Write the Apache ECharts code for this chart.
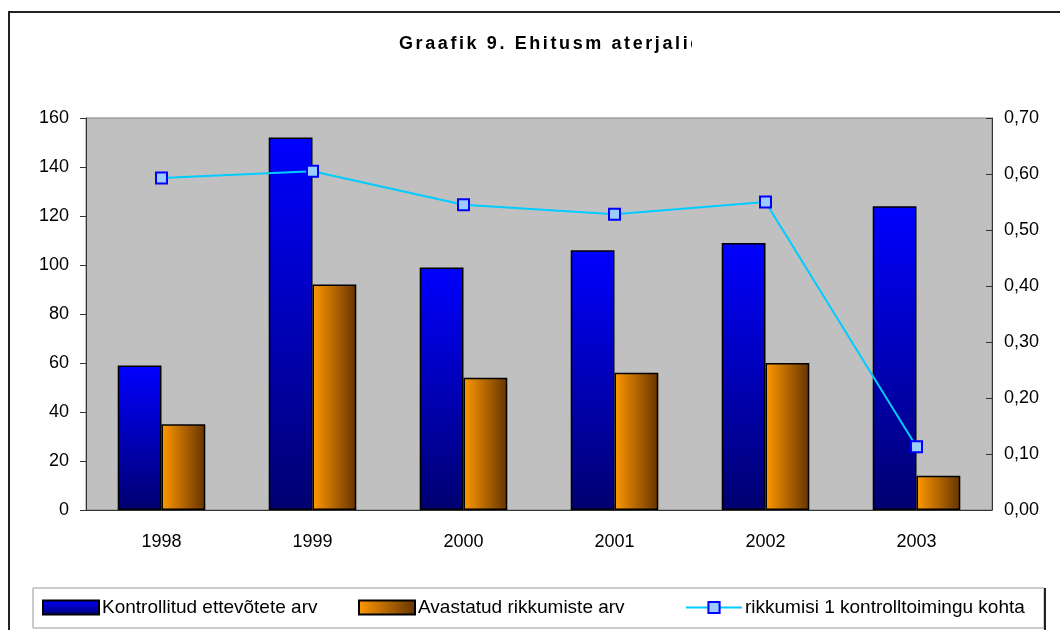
<!DOCTYPE html>
<html>
<head>
<meta charset="utf-8">
<title>Graafik 9</title>
<script src="https://cdn.jsdelivr.net/npm/echarts@6/dist/echarts.min.js"></script>
<style>
  html, body { margin: 0; padding: 0; background: #fff; }
  #wrap { position: relative; width: 1060px; height: 630px; }
  #chartArea { width: 1060px; height: 630px; }
  /* pealkiri on raami sees ära lõigatud nagu originaalis */
  #chartTitle {
    position: absolute; left: 399px; top: 33px; width: 293px; height: 24px;
    overflow: hidden; white-space: nowrap;
    font: bold 18px 'Liberation Sans', Arial, sans-serif; letter-spacing: 2.6px; color: #000;
  }
</style>
</head>
<body>
<div id="wrap">
  <div id="chartArea"></div>
  <div id="chartTitle">Graafik 9. Ehitusm aterjalid</div>
</div>
<script>
// andmed
const years = ['1998', '1999', '2000', '2001', '2002', '2003'];
const kontrollitud = [59, 152, 99, 106, 109, 124];
const rikkumised = [35, 92, 54, 56, 60, 14];
const rikkumisiKohta = [0.593, 0.605, 0.545, 0.528, 0.550, 0.113];
const seriesNames = ['Kontrollitud ettevõtete arv', 'Avastatud rikkumiste arv', 'rikkumisi 1 kontrolltoimingu kohta'];

const font = 'Liberation Sans, Arial, sans-serif';

let myChart = echarts.init(document.getElementById('chartArea'));

let blueFill = new echarts.graphic.LinearGradient(0, 0, 0, 1, [
  { offset: 0, color: '#0000ff' },
  { offset: 1, color: '#000070' }
]);
let orangeFill = new echarts.graphic.LinearGradient(0, 0, 1, 0, [
  { offset: 0, color: '#ff9900' },
  { offset: 1, color: '#663300' }
]);

function legendAt(left, name, icon) {
  let l = {
    left: left,
    top: 598,
    padding: 0,
    data: [name],
    itemWidth: 56,
    itemHeight: 14,
    selectedMode: false,
    textStyle: { fontFamily: font, fontSize: 19, color: '#000', padding: [0, 0, 0, -2] }
  };
  if (icon) l.icon = icon;
  return l;
}

let option = {
  animation: false,
  textStyle: { fontFamily: font },
  graphic: [
    {
      type: 'rect',
      shape: { x: 9, y: 12, width: 1100, height: 700 },
      style: { fill: 'none', stroke: '#222', lineWidth: 2 },
      silent: true
    },
    {
      type: 'rect',
      shape: { x: 33, y: 588, width: 1011, height: 40 },
      style: { fill: 'none', stroke: '#999', lineWidth: 1 },
      silent: true
    },
    {
      type: 'line',
      shape: { x1: 1045, y1: 588, x2: 1045, y2: 630 },
      style: { stroke: '#222', lineWidth: 2 },
      silent: true
    }
  ],
  legend: [
    legendAt(42, seriesNames[0], 'rect'),
    legendAt(358, seriesNames[1], 'rect'),
    legendAt(685, seriesNames[2])
  ],
  grid: {
    left: 86,
    right: 68,
    top: 118,
    bottom: 120,
    show: true,
    backgroundColor: '#c0c0c0',
    borderColor: '#808080',
    borderWidth: 1
  },
  xAxis: {
    type: 'category',
    data: years,
    axisLine: { lineStyle: { color: '#333', width: 1 } },
    axisTick: { length: 6, lineStyle: { color: '#333' } },
    axisLabel: { fontFamily: font, fontSize: 18, color: '#000', margin: 23 }
  },
  yAxis: [
    {
      type: 'value',
      min: 0,
      max: 160,
      interval: 20,
      splitLine: { show: false },
      axisLine: { show: true, lineStyle: { color: '#333' } },
      axisTick: { show: true, length: 6, lineStyle: { color: '#333' } },
      axisLabel: { fontFamily: font, fontSize: 18, color: '#000', margin: 17 }
    },
    {
      type: 'value',
      min: 0,
      max: 0.7,
      interval: 0.1,
      position: 'right',
      splitLine: { show: false },
      axisLine: { show: true, lineStyle: { color: '#333' } },
      axisTick: { show: true, length: 6, inside: true, lineStyle: { color: '#333' } },
      axisLabel: {
        fontFamily: font, fontSize: 18, color: '#000', margin: 12,
        formatter: function (v) { return v.toFixed(2).replace('.', ','); }
      }
    }
  ],
  series: [
    {
      name: seriesNames[0],
      type: 'bar',
      data: kontrollitud,
      barGap: '0%',
      barCategoryGap: '42%',
      itemStyle: { color: blueFill, borderColor: '#000', borderWidth: 1.5 }
    },
    {
      name: seriesNames[1],
      type: 'bar',
      data: rikkumised,
      itemStyle: { color: orangeFill, borderColor: '#000', borderWidth: 1.5 }
    },
    {
      name: seriesNames[2],
      type: 'line',
      yAxisIndex: 1,
      data: rikkumisiKohta,
      symbol: 'rect',
      symbolSize: 11,
      lineStyle: { color: '#00ccff', width: 2 },
      itemStyle: { color: '#99ccff', borderColor: '#0000ff', borderWidth: 2 },
      z: 5
    }
  ]
};

option && myChart.setOption(option);
</script>
</body>
</html>
